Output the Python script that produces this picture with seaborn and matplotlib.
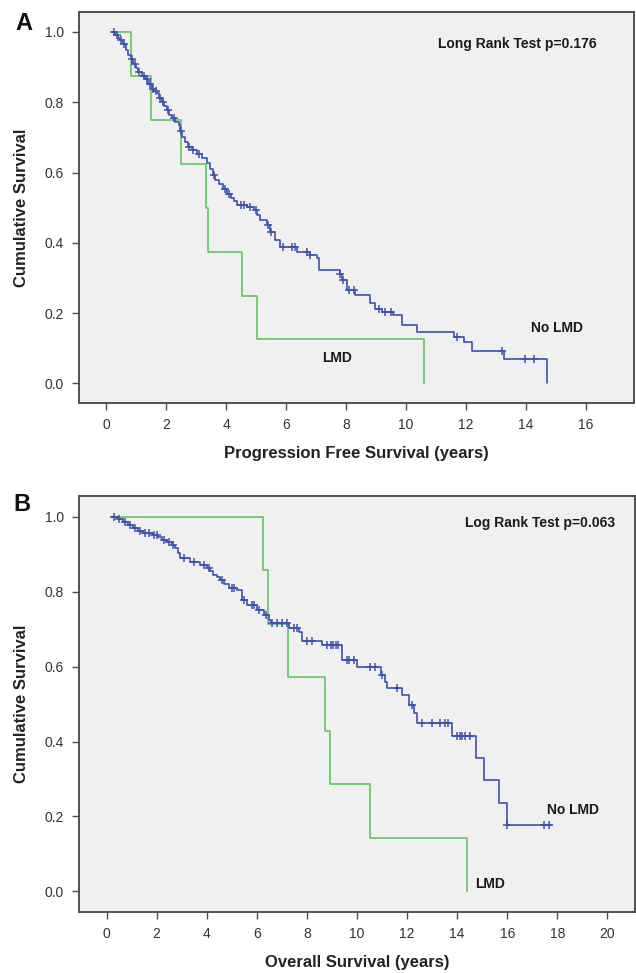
import numpy as np
import pandas as pd
import matplotlib
matplotlib.use("Agg")
import matplotlib.pyplot as plt
import seaborn as sns

# ---------------- Data ----------------
# Panel A: Progression free survival, No LMD (step points: time, survival after time)
pfs_nolmd_t = [0.20, 0.30, 0.40, 0.46, 0.55, 0.65, 0.74, 0.82, 0.90, 1.00, 1.07, 1.18, 1.29, 1.40,
               1.52, 1.60, 1.68, 1.76, 1.85, 1.94, 2.02, 2.10, 2.18, 2.30, 2.41, 2.47, 2.52, 2.63,
               2.74, 2.85, 3.02, 3.18, 3.35, 3.45, 3.55, 3.63, 3.75, 3.90, 4.02, 4.15, 4.25, 4.36,
               4.69, 4.91, 5.02, 5.13, 5.35, 5.45, 5.63, 5.80, 6.36, 6.80, 7.03, 7.08, 7.78, 7.86,
               8.03, 8.31, 8.80, 8.97, 9.20, 9.55, 9.87, 10.37, 11.59, 11.92, 12.20, 13.26, 14.69]
pfs_nolmd_s = [1.000, 0.990, 0.982, 0.976, 0.965, 0.950, 0.934, 0.922, 0.910, 0.897, 0.886, 0.875,
               0.867, 0.852, 0.839, 0.832, 0.825, 0.812, 0.801, 0.789, 0.777, 0.765, 0.754, 0.745,
               0.735, 0.718, 0.701, 0.687, 0.673, 0.664, 0.654, 0.640, 0.626, 0.610, 0.594, 0.578,
               0.566, 0.553, 0.540, 0.528, 0.518, 0.507, 0.502, 0.493, 0.478, 0.464, 0.450, 0.431,
               0.408, 0.389, 0.374, 0.365, 0.356, 0.324, 0.310, 0.294, 0.265, 0.251, 0.230, 0.213,
               0.204, 0.194, 0.166, 0.147, 0.133, 0.118, 0.093, 0.069, 0.000]
pfs_nolmd_cens = [0.25, 0.35, 0.50, 0.60, 0.85, 0.95, 1.10, 1.25, 1.35, 1.45, 1.55, 1.65, 1.80,
                  1.90, 2.05, 2.25, 2.50, 2.75, 2.90, 3.10, 3.60, 3.95, 4.10, 4.50, 4.60, 4.80,
                  5.00, 5.40, 5.50, 5.90, 6.20, 6.30, 6.70, 6.80, 7.80, 7.90, 8.10, 8.25, 9.10,
                  9.30, 9.50, 11.70, 13.20, 13.95, 14.25]

# Panel A: LMD
pfs_lmd_t = [0.20, 0.82, 1.49, 2.48, 3.33, 3.39, 4.51, 5.01, 10.59]
pfs_lmd_s = [1.000, 0.875, 0.750, 0.625, 0.500, 0.375, 0.250, 0.125, 0.000]

# Panel B: Overall survival, No LMD
os_nolmd_t = [0.20, 0.45, 0.67, 0.85, 1.06, 1.25, 1.46, 1.86, 2.05, 2.20, 2.40, 2.60, 2.73, 2.85,
              2.93, 3.33, 3.73, 4.00, 4.15, 4.27, 4.40, 4.53, 4.70, 4.87, 5.20, 5.40, 5.60, 6.00,
              6.27, 6.47, 6.55, 7.27, 7.67, 7.80, 8.60, 9.40, 10.00, 10.94, 11.10, 11.20, 11.80,
              12.07, 12.27, 12.40, 13.80, 14.74, 15.07, 15.67, 15.98, 17.74]
os_nolmd_s = [1.000, 0.993, 0.987, 0.978, 0.970, 0.963, 0.956, 0.952, 0.945, 0.939, 0.932, 0.925,
              0.916, 0.903, 0.890, 0.880, 0.872, 0.863, 0.854, 0.845, 0.838, 0.832, 0.820, 0.809,
              0.805, 0.778, 0.765, 0.751, 0.738, 0.725, 0.716, 0.702, 0.693, 0.667, 0.658, 0.618,
              0.598, 0.578, 0.560, 0.542, 0.524, 0.497, 0.475, 0.450, 0.414, 0.355, 0.297, 0.237,
              0.176, 0.176]
os_nolmd_cens = [0.30, 0.50, 0.75, 0.95, 1.15, 1.35, 1.55, 1.70, 1.90, 2.00, 2.30, 2.50, 2.65,
                 3.10, 3.50, 3.90, 4.10, 4.60, 5.00, 5.10, 5.50, 5.80, 5.90, 6.10, 6.35, 6.60,
                 6.80, 7.00, 7.20, 7.50, 7.60, 8.00, 8.20, 8.80, 8.95, 9.05, 9.15, 9.25, 9.60,
                 9.70, 9.90, 10.50, 10.70, 11.00, 11.60, 12.20, 12.60, 13.00, 13.30, 13.50,
                 13.65, 14.00, 14.10, 14.20, 14.30, 14.50, 16.00, 17.45, 17.65]

# Panel B: LMD
os_lmd_t = [0.20, 6.25, 6.44, 7.26, 8.72, 8.91, 10.53, 14.40]
os_lmd_s = [1.000, 0.857, 0.714, 0.571, 0.429, 0.286, 0.143, 0.000]

panel_letters = ["A", "B"]
xlabels = ["Progression Free Survival (years)", "Overall Survival (years)"]
ylabel = "Cumulative Survival"
pvalue_texts = ["Long Rank Test p=0.176", "Log Rank Test p=0.063"]
xticks_list = [list(range(0, 17, 2)), list(range(0, 21, 2))]
yticks = [0.0, 0.2, 0.4, 0.6, 0.8, 1.0]

# ---------------- Styling ----------------
BLUE = "#3f51ab"
GREEN = "#6cc96c"
BG = "#f0f0f0"
FRAME = "#505050"

sns.set_theme(style="white")
plt.rcParams["font.family"] = ["Liberation Sans", "DejaVu Sans"]

fig = plt.figure(figsize=(6.36, 9.73), dpi=100)
W, H = 636, 973


def ax_rect(l, r, t, b):
    return [l / W, 1 - b / H, (r - l) / W, (b - t) / H]


axA = fig.add_axes(ax_rect(79, 634, 12.3, 402.7))
axB = fig.add_axes(ax_rect(79, 635, 495.7, 912))


def step_value(ts, ss, x):
    ts = np.asarray(ts)
    idx = np.searchsorted(ts, x, side="right") - 1
    idx = np.clip(idx, 0, len(ss) - 1)
    return np.asarray(ss)[idx]


def draw_panel(ax, nl_t, nl_s, nl_c, l_t, l_s, xlim, xticks):
    ax.set_facecolor(BG)
    df_nl = pd.DataFrame({"t": nl_t, "s": nl_s})
    df_l = pd.DataFrame({"t": l_t, "s": l_s})
    sns.lineplot(data=df_l, x="t", y="s", ax=ax, color=GREEN, lw=1.3,
                 drawstyle="steps-post", estimator=None, sort=False)
    sns.lineplot(data=df_nl, x="t", y="s", ax=ax, color=BLUE, lw=1.2,
                 drawstyle="steps-post", estimator=None, sort=False)
    cens = pd.DataFrame({"t": nl_c, "s": step_value(nl_t, nl_s, np.asarray(nl_c))})
    sns.scatterplot(data=cens, x="t", y="s", ax=ax, marker="+", color=BLUE, s=34,
                    linewidth=1.1, zorder=5)
    ax.set_xlim(*xlim)
    ax.set_ylim(-0.055, 1.056)
    ax.set_xticks(xticks)
    ax.set_yticks(yticks)
    ax.set_yticklabels([f"{v:.1f}" for v in yticks])
    for sp in ax.spines.values():
        sp.set_color(FRAME)
        sp.set_linewidth(1.4)
    ax.tick_params(axis="both", which="major", direction="out", length=5, width=1,
                   color=FRAME, labelsize=10, labelcolor="#333333", pad=6,
                   bottom=True, left=True)
    ax.set_ylabel(ylabel, fontsize=12, fontweight="bold", color="#222222", labelpad=11)


draw_panel(axA, pfs_nolmd_t, pfs_nolmd_s, pfs_nolmd_cens, pfs_lmd_t, pfs_lmd_s,
           (-0.91, 17.6), xticks_list[0])
draw_panel(axB, os_nolmd_t, os_nolmd_s, os_nolmd_cens, os_lmd_t, os_lmd_s,
           (-1.1, 21.1), xticks_list[1])

axA.set_xlabel(xlabels[0], fontsize=12, fontweight="bold", color="#222222", labelpad=10)
axB.set_xlabel(xlabels[1], fontsize=12, fontweight="bold", color="#222222", labelpad=10)

ann = dict(fontsize=10, fontweight="bold", color="#1a1a1a")
axA.text(16.35, 0.967, pvalue_texts[0], ha="right", va="center", **ann)
axA.text(15.04, 0.159, "No LMD", ha="center", va="center", **ann)
axA.text(7.70, 0.071, "LMD", ha="center", va="center", **ann)
axB.text(20.32, 0.983, pvalue_texts[1], ha="right", va="center", **ann)
axB.text(18.61, 0.217, "No LMD", ha="center", va="center", **ann)
axB.text(14.72, 0.021, "LMD", ha="left", va="center", **ann)

fig.text(24 / W, 1 - 23 / H, panel_letters[0], fontsize=17, fontweight="bold",
         ha="center", va="center", color="#111111")
fig.text(22 / W, 1 - 505 / H, panel_letters[1], fontsize=17, fontweight="bold",
         ha="center", va="center", color="#111111")

fig.savefig("out.png", dpi=100, facecolor="white")
